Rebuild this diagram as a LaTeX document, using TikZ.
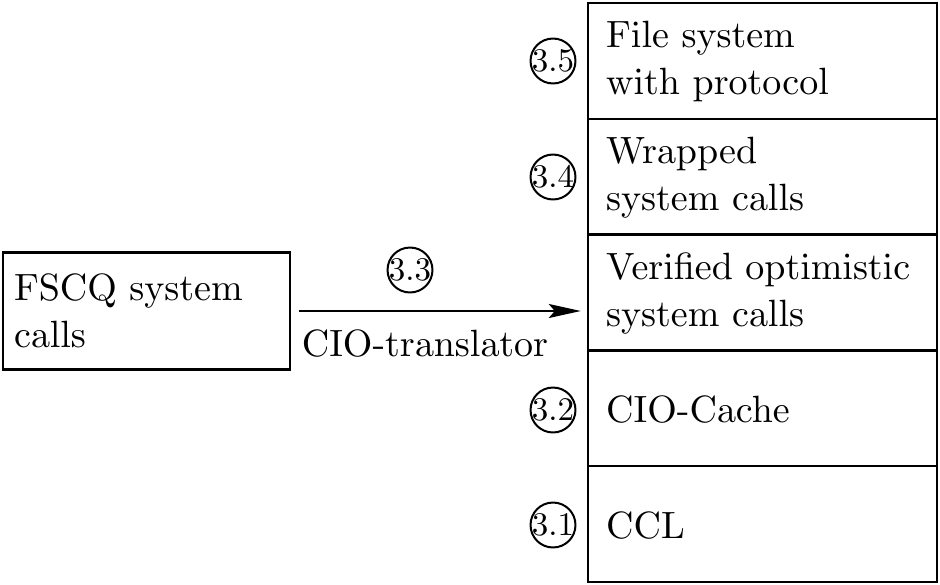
\documentclass[tikz,border=0pt]{standalone}
\usetikzlibrary{arrows.meta}
\font\lyrfont=cmr10 at 19pt
\font\circfont=cmr10 at 16.5pt
\begin{document}
\begin{tikzpicture}[x=0.5pt,y=-0.5pt,
  layer/.style={draw,line width=1.2pt,rectangle,minimum width=174.5pt,minimum height=57.9pt,inner sep=0pt},
  ltext/.style={anchor=west,inner sep=0pt,align=left,font=\fontsize{19}{23.5}\selectfont\lyrfont},
  srcbox/.style={draw,line width=1.2pt,rectangle,minimum width=143.5pt,minimum height=58.5pt,
    inner xsep=5.5pt,text width=132.5pt,align=left,font=\fontsize{19}{23.5}\selectfont\lyrfont},
  circ/.style={circle,draw,line width=1pt,inner sep=-0.4pt,font=\circfont},
  plain/.style={inner sep=0pt,font=\fontsize{19}{23.5}\selectfont\lyrfont},
  arr/.style={line width=1.2pt,-{Stealth[length=16pt,width=7pt,inset=3pt]}}]
\useasboundingbox (0,0) rectangle (940,584);
\node[layer] (l5) at (762.5,60.9) {};
\node[layer] (l4) at (762.5,176.7) {};
\node[layer] (l3) at (762.5,292.5) {};
\node[layer] (l2) at (762.5,408.3) {};
\node[layer] (l1) at (762.5,524.1) {};
\node[ltext] (t5) at ([xshift=9.5pt,yshift=-0.5pt]l5.west) {File system\\with protocol};
\node[ltext] (t4) at ([xshift=9.5pt,yshift=-0.5pt]l4.west) {Wrapped\\system calls};
\node[ltext] (t3) at ([xshift=9.5pt,yshift=-0.5pt]l3.west) {Verified optimistic\\system calls};
\node[ltext] (t2) at ([xshift=9.5pt,yshift=-0.5pt]l2.west) {CIO-Cache};
\node[ltext] (t1) at ([xshift=9.5pt,yshift=-0.5pt]l1.west) {CCL};
\node[circ] (c5) at (553,61) {3.5};
\node[circ] (c4) at (553,177) {3.4};
\node[circ] (c2) at (553,410) {3.2};
\node[circ] (c1) at (553,525) {3.1};
\node[srcbox] (fscq) at (146.5,311) {FSCQ system\\calls};
\draw[arr,shorten <=4pt,shorten >=3pt] (fscq.east) -- (fscq.east -| l3.west);
\node[circ] (c3) at (410,270) {3.3};
\node[plain] (tr) at (425,343) {CIO-translator};
\end{tikzpicture}
\end{document}
